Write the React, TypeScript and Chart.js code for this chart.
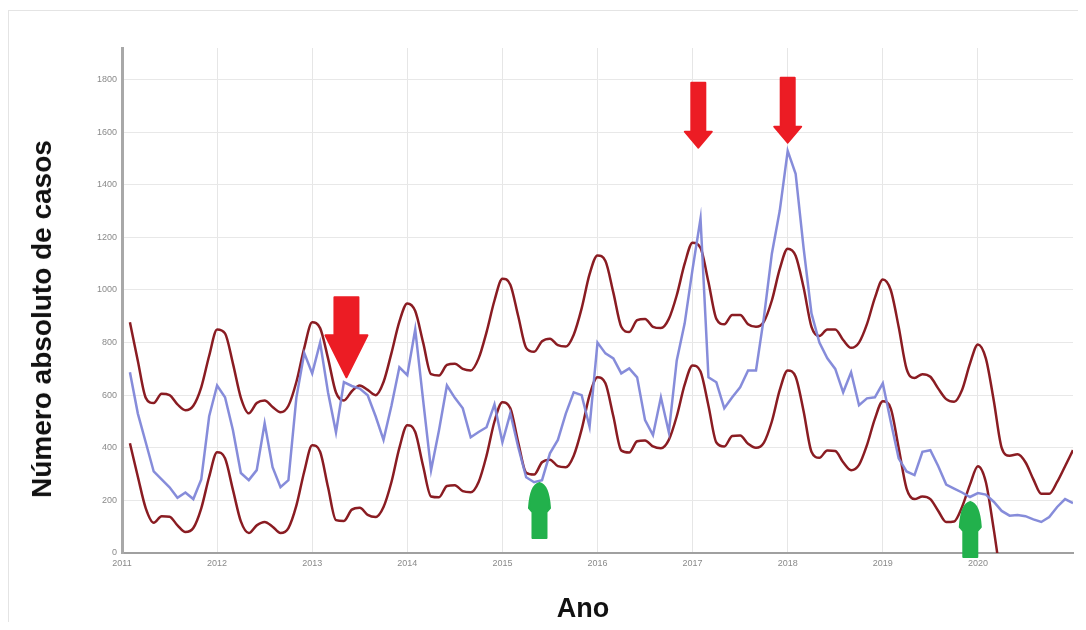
import React, { useEffect, useRef } from 'react';
import { Chart, registerables } from 'chart.js';

Chart.register(...registerables);

// Year tick labels (x axis)
const YEARS = [2011, 2012, 2013, 2014, 2015, 2016, 2017, 2018, 2019, 2020];

// Monthly observed cases (blue)
const OBSERVED = [
  687, 530, 420, 310, 280, 250, 210, 230, 205, 280, 520, 637,
  592, 467, 304, 277, 315, 493, 326, 250, 277, 590, 760, 683,
  800, 610, 459, 650, 635, 625, 600, 520, 430, 560, 706, 676,
  850, 580, 315, 467, 637, 590, 550, 440, 460, 478, 565, 421,
  531, 402, 288, 269, 277, 379, 430, 530, 611, 600, 480, 800,
  759, 740, 683, 702, 668, 505, 448, 592, 459, 732, 873, 1080,
  1271, 668, 649, 550, 592, 630, 694, 694, 896, 1138, 1302, 1529,
  1442, 1161, 911, 800, 740, 700, 611, 687, 562, 588, 592, 645,
  500, 360, 310, 296, 385, 391, 330, 260, 245, 230, 213, 228,
  222, 195, 160, 142, 144, 140, 128, 118, 137, 175, 205, 190,
];

// Upper limit (dark red)
const UPPER = [
  877, 730, 590, 570, 605, 600, 565, 543, 560, 630, 750, 850,
  835, 720, 590, 531, 570, 580, 555, 535, 560, 650, 780, 877,
  855, 740, 610, 580, 615, 637, 620, 600, 650, 760, 880, 949,
  920, 800, 680, 675, 715, 720, 700, 694, 740, 840, 960, 1043,
  1020, 900, 780, 765, 805, 815, 790, 785, 830, 930, 1060, 1131,
  1110, 990, 860, 840, 885, 890, 860, 855, 890, 980, 1100, 1180,
  1160, 1030, 890, 870, 905, 905, 870, 860, 880, 960, 1080, 1157,
  1130, 1010, 860, 825, 850, 850, 810, 780, 800, 870, 970, 1040,
  1000, 860, 700, 665, 680, 670, 625, 585, 575, 620, 720, 793,
  740, 580, 400, 370, 375, 345, 280, 225, 225, 270, 330, 391,
];

// Lower limit (dark red)
const LOWER = [
  417, 290, 170, 115, 140, 138, 105, 80, 95, 170, 290, 383,
  360, 240, 120, 76, 105, 118, 100, 76, 95, 180, 310, 410,
  385, 250, 125, 122, 165, 172, 145, 137, 175, 270, 400, 486,
  460, 330, 215, 212, 255, 258, 235, 231, 270, 370, 500, 573,
  550, 420, 305, 298, 345, 355, 330, 326, 370, 470, 600, 668,
  645, 520, 390, 382, 425, 428, 405, 398, 430, 520, 640, 713,
  690, 560, 420, 405, 445, 447, 415, 400, 420, 500, 620, 694,
  670, 540, 385, 362, 390, 388, 345, 315, 335, 410, 510, 577,
  550, 400, 245, 205, 215, 205, 160, 118, 120, 175, 260, 330,
  270, 90, -100, -140, -135, -165, -230, -285, -285, -240, -180, -120,
];

// Arrow annotations (tip position in data units)
const ARROW_YEARS = [2013.36, 2017.06, 2018.0, 2015.39, 2019.92];
const ARROW_VALUES = [668, 1541, 1560, 266, 194];
const ARROW_KINDS = ['bigDown', 'down', 'down', 'up', 'up'];

const toPoints = (arr: number[]) =>
  arr.map((v, i) => ({ x: YEARS[0] + (i + 1) / 12, y: v }));

const arrowPlugin = {
  id: 'arrowAnnotations',
  afterDatasetsDraw(chart: any) {
    const { ctx, scales } = chart;
    const xs = scales.x;
    const ys = scales.y;
    ctx.save();
    ARROW_YEARS.forEach((yr, k) => {
      const px = xs.getPixelForValue(yr);
      const py = ys.getPixelForValue(ARROW_VALUES[k]);
      const kind = ARROW_KINDS[k];
      ctx.beginPath();
      if (kind === 'bigDown' || kind === 'down') {
        const big = kind === 'bigDown';
        const sw = big ? 12 : 7;
        const hw = big ? 21 : 13.5;
        const hh = big ? 42 : 16;
        const total = big ? 80 : 65;
        ctx.moveTo(px - sw, py - total);
        ctx.lineTo(px + sw, py - total);
        ctx.lineTo(px + sw, py - hh);
        ctx.lineTo(px + hw, py - hh);
        ctx.lineTo(px, py);
        ctx.lineTo(px - hw, py - hh);
        ctx.lineTo(px - sw, py - hh);
        ctx.closePath();
        ctx.fillStyle = '#ec1c24';
        ctx.strokeStyle = '#ec1c24';
      } else {
        const sw = 7;
        const hw = 10.5;
        const total = 55;
        ctx.moveTo(px - sw, py + total);
        ctx.lineTo(px - sw, py + 29);
        ctx.lineTo(px - hw, py + 25);
        ctx.quadraticCurveTo(px - 9, py + 2, px, py);
        ctx.quadraticCurveTo(px + 9, py + 2, px + hw, py + 25);
        ctx.lineTo(px + sw, py + 29);
        ctx.lineTo(px + sw, py + total);
        ctx.closePath();
        ctx.fillStyle = '#22b14c';
        ctx.strokeStyle = '#22b14c';
      }
      ctx.lineJoin = 'round';
      ctx.lineWidth = 2;
      ctx.fill();
      ctx.stroke();
    });
    ctx.restore();
  },
};

export default function App() {
  const ref = useRef<HTMLCanvasElement | null>(null);

  useEffect(() => {
    if (!ref.current) return;
    const tickFont = { family: "'Liberation Sans', Arial, sans-serif", size: 9 };
    const chart = new Chart(ref.current, {
      type: 'line',
      data: {
        datasets: [
          {
            label: 'Casos observados',
            data: toPoints(OBSERVED),
            borderColor: 'rgba(128,134,216,0.95)',
            borderWidth: 2.5,
            pointRadius: 0,
            tension: 0,
          },
          {
            label: 'Limite superior',
            data: toPoints(UPPER),
            borderColor: '#8a1c22',
            borderWidth: 2.5,
            pointRadius: 0,
            cubicInterpolationMode: 'monotone',
          },
          {
            label: 'Limite inferior',
            data: toPoints(LOWER),
            borderColor: '#8a1c22',
            borderWidth: 2.5,
            pointRadius: 0,
            cubicInterpolationMode: 'monotone',
          },
        ] as any,
      },
      options: {
        animation: false,
        responsive: false,
        maintainAspectRatio: false,
        layout: { padding: { left: 0, top: 40, right: 1.5, bottom: 0 } },
        plugins: { legend: { display: false }, tooltip: { enabled: false } },
        scales: {
          x: {
            type: 'linear',
            min: 2011,
            max: 2021,
            afterFit: (s: any) => {
              s.height = 69;
            },
            ticks: {
              stepSize: 1,
              autoSkip: false,
              maxRotation: 0,
              padding: 5,
              font: tickFont,
              color: '#8a8a8a',
              callback: (v: any) => (YEARS.includes(Number(v)) ? String(v) : ''),
            },
            grid: {
              drawTicks: false,
              color: (c: any) =>
                c.tick && YEARS.includes(c.tick.value) ? '#e6e6e6' : 'rgba(0,0,0,0)',
              lineWidth: 1,
            },
            border: { color: '#a0a0a0', width: 2 },
          },
          y: {
            min: 0,
            max: 1920,
            afterFit: (s: any) => {
              s.width = 114;
            },
            ticks: {
              stepSize: 200,
              includeBounds: false,
              padding: 5,
              font: tickFont,
              color: '#8a8a8a',
              callback: (v: any) => String(v),
            },
            grid: { drawTicks: false, color: '#e8e8e8', lineWidth: 1 },
            border: { color: '#a8a8a8', width: 3 },
          },
        },
      } as any,
      plugins: [arrowPlugin],
    });
    return () => chart.destroy();
  }, []);

  const titleFont = "'Liberation Sans', Arial, sans-serif";

  return (
    <div style={{ position: 'relative', width: 1070, height: 614 }}>
      <div
        style={{
          position: 'absolute',
          left: 0,
          top: 2,
          width: 1070,
          height: 612,
          borderTop: '1px solid #e4e4e4',
          borderLeft: '1px solid #e4e4e4',
          boxSizing: 'border-box',
          pointerEvents: 'none',
        }}
      />
      <canvas
        ref={ref}
        width={1070}
        height={614}
        style={{ position: 'absolute', left: 0, top: 0, display: 'block' }}
      />
      <div
        style={{
          position: 'absolute',
          left: 34,
          top: 311,
          transform: 'translate(-50%, -50%) rotate(-90deg)',
          whiteSpace: 'nowrap',
          fontFamily: titleFont,
          fontWeight: 'bold',
          fontSize: 28,
          color: '#111',
          lineHeight: 1,
        }}
      >
        Número absoluto de casos
      </div>
      <div
        style={{
          position: 'absolute',
          left: 575,
          top: 600,
          transform: 'translate(-50%, -50%)',
          whiteSpace: 'nowrap',
          fontFamily: titleFont,
          fontWeight: 'bold',
          fontSize: 27,
          color: '#111',
          lineHeight: 1,
        }}
      >
        Ano
      </div>
    </div>
  );
}
